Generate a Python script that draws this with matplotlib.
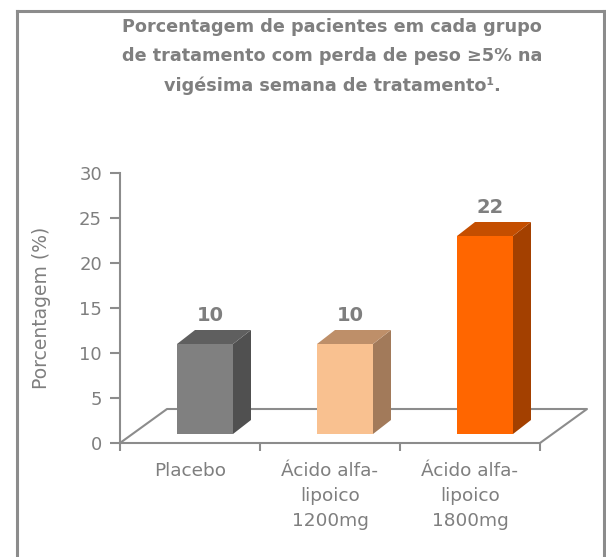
import matplotlib
matplotlib.use("Agg")
import matplotlib.pyplot as plt
from matplotlib.patches import Polygon
from matplotlib.lines import Line2D

plt.rcParams['font.family'] = ['DejaVu Sans']

categories = ["Placebo", "Ácido alfa-\nlipoico\n1200mg", "Ácido alfa-\nlipoico\n1800mg"]
values = [10, 10, 22]
front_colors = ["#808080", "#F9C190", "#FF6600"]
side_colors = ["#505050", "#A27A5A", "#A34000"]
top_colors = ["#5F5F5F", "#BE8F69", "#C44E00"]
yticks = [0, 5, 10, 15, 20, 25, 30]
title = "Porcentagem de pacientes em cada grupo\nde tratamento com perda de peso ≥5% na\nvigésima semana de tratamento¹."
ylabel = "Porcentagem (%)"

W, H = 606, 557
fig = plt.figure(figsize=(W / 100, H / 100), dpi=100)
TXT = "#7F7F7F"
AX = "#8C8C8C"

# border
fig.add_artist(Line2D([17 / W, 17 / W], [0, 1 - 11 / H], color="#8C8C8C", lw=2.2))
fig.add_artist(Line2D([17 / W, 604 / W], [1 - 11 / H, 1 - 11 / H], color="#8C8C8C", lw=2.2))
fig.add_artist(Line2D([604 / W, 604 / W], [0, 1 - 11 / H], color="#8C8C8C", lw=2.2))

ax = fig.add_axes([120 / W, (H - 443) / H, 420 / W, 270 / H])
ax.set_xlim(0, 3)
ax.set_ylim(0, 30)
for s in ["top", "right"]:
    ax.spines[s].set_visible(False)
for s in ["left", "bottom"]:
    ax.spines[s].set_color(AX)
    ax.spines[s].set_linewidth(1.5)

ax.set_yticks(yticks)
ax.set_yticklabels([str(t) for t in yticks])
ax.set_xticks([0, 1, 2, 3])
ax.set_xticklabels([])
ax.set_xticks([0.5, 1.5, 2.5], minor=True)
ax.set_xticklabels(categories, minor=True, fontsize=13.3, color=TXT, linespacing=1.48, va="top")
ax.tick_params(axis="x", which="minor", length=0, pad=14)
ax.tick_params(axis="x", which="major", length=6, width=1.5, color=AX)
ax.tick_params(axis="y", length=7, width=1.5, color=AX, labelsize=13, labelcolor=TXT, pad=6)
ax.set_ylabel(ylabel, fontsize=13.5, color=TXT, labelpad=20)

# floor (depth offsets in data units: 47px -> x, 34px -> y)
fdx, fdy = 47 / 140, 34 / 9
floor_kw = dict(color=AX, lw=1.5, clip_on=False, zorder=1)
ax.plot([0, fdx, 3 + fdx, 3], [0, fdy, fdy, 0], **floor_kw)

# bars
bw = 56 / 140
bdx, bdy = 18 / 140, 14 / 9
base = 1.0
off = 15 / 140
for i, v in enumerate(values):
    x0 = i + 0.5 + off - bw / 2
    x1 = x0 + bw
    y0 = base
    y1 = base + v
    front = Polygon([(x0, y0), (x1, y0), (x1, y1), (x0, y1)], closed=True,
                    facecolor=front_colors[i], edgecolor="none", zorder=3, clip_on=False)
    side = Polygon([(x1, y0), (x1 + bdx, y0 + bdy), (x1 + bdx, y1 + bdy), (x1, y1)], closed=True,
                   facecolor=side_colors[i], edgecolor="none", zorder=3, clip_on=False)
    top = Polygon([(x0, y1), (x1, y1), (x1 + bdx, y1 + bdy), (x0 + bdx, y1 + bdy)], closed=True,
                  facecolor=top_colors[i], edgecolor="none", zorder=3, clip_on=False)
    for p in (front, side, top):
        ax.add_patch(p)
    ax.text((x0 + x1) / 2 + 0.04, y1 + bdy + 0.6, str(v), ha="center", va="bottom",
            fontsize=14, fontweight="bold", color=TXT, zorder=4)

fig.text(332 / W, 1 - 18 / H, title, ha="center", va="top", fontsize=12.7,
         fontweight="bold", color=TXT, linespacing=1.78)

fig.savefig("out.png", dpi=100, facecolor="white")
